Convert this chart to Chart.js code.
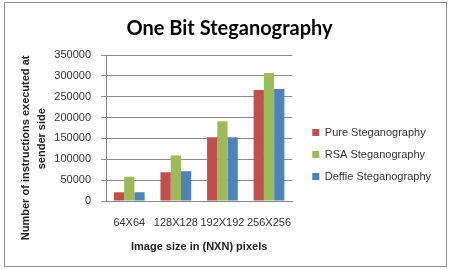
<!DOCTYPE html>
<html>
<head>
<meta charset="utf-8">
<script src="https://cdn.jsdelivr.net/npm/chart.js@4.4.0/dist/chart.umd.min.js"></script>
<style>
html,body{margin:0;padding:0;background:#fff;}
#wrap{position:absolute;left:0;top:0;width:449px;height:269px;}
#frame{position:absolute;left:4px;top:2px;width:441px;height:263px;border:1px solid #8c8c8c;pointer-events:none;}
canvas{position:absolute;left:0;top:0;}
</style>
</head>
<body>
<div id="wrap"><canvas id="c" width="449" height="269"></canvas></div>
<div id="frame"></div>
<script>
const categories = ["64X64", "128X128", "192X192", "256X256"];
const pureValues = [21000, 69000, 153000, 266000];
const rsaValues = [58000, 109000, 191000, 307000];
const deffieValues = [21000, 71500, 153000, 268500];
const seriesNames = ["Pure Steganography", "RSA Steganography", "Deffie Steganography"];
const yTicks = [0, 50000, 100000, 150000, 200000, 250000, 300000, 350000];
const yTitleLines = ["Number of instructions executed at", "sender side"];
const xTitle = "Image size in (NXN) pixels";
const chartTitle = "One Bit Steganography";

const FONT = "'Liberation Sans', Arial, sans-serif";
Chart.defaults.font.family = FONT;
Chart.defaults.color = "#333";

// trailing spaces nudge the rotated (centred) title lines toward the bottom, as in the reference
const yTitleText = [yTitleLines[0] + " ".repeat(13), yTitleLines[1] + " ".repeat(7)];

new Chart(document.getElementById('c'), {
  type: 'bar',
  data: {
    labels: categories,
    datasets: [
      {label: seriesNames[0], data: pureValues, backgroundColor: '#C0504D'},
      {label: seriesNames[1], data: rsaValues, backgroundColor: '#9BBB59'},
      {label: seriesNames[2], data: deffieValues, backgroundColor: '#4F81BD'}
    ]
  },
  options: {
    responsive: false,
    animation: false,
    devicePixelRatio: 1,
    datasets: {bar: {categoryPercentage: 0.66, barPercentage: 1.0}},
    layout: {padding: {left: 18, right: 8, top: 8, bottom: 17}},
    plugins: {
      title: {
        display: true,
        text: chartTitle,
        color: '#000',
        font: {family: "Lato, 'Open Sans', sans-serif", size: 20, weight: 'bold'},
        padding: {top: 9, bottom: 14}
      },
      legend: {
        position: 'right',
        align: 'center',
        maxWidth: 150,
        title: {display: true, text: '', font: {size: 10, lineHeight: 1.2}, padding: {top: 0, bottom: 37}},
        labels: {
          boxWidth: 7, boxHeight: 7, padding: 11,
          color: '#333',
          font: {size: 11}
        }
      },
      tooltip: {enabled: false}
    },
    scales: {
      x: {
        grid: {display: false, drawTicks: false},
        border: {display: true, color: '#868686'},
        ticks: {padding: 16, color: '#333', font: {size: 11, lineHeight: 1.0}, maxRotation: 0, autoSkip: false},
        title: {display: true, text: xTitle, color: '#222', font: {size: 11, weight: 'bold', lineHeight: 1.0}, padding: {top: -3, bottom: 0}}
      },
      y: {
        min: 0, max: 350000,
        afterBuildTicks: (axis) => { axis.ticks = yTicks.map(v => ({value: v})); },
        afterFit: (s) => { s.width = 88; },
        grid: {color: '#8a8a8a', tickLength: 5, drawTicks: true},
        border: {display: true, color: '#868686'},
        ticks: {padding: 10, color: '#333', font: {size: 11}, callback: (v) => String(v)},
        title: {display: true, text: yTitleText, color: '#222', font: {size: 11, weight: 'bold', lineHeight: 1.45}, padding: {top: 0, bottom: 5}}
      },
      gap: {
        position: 'right',
        display: true,
        grid: {display: false, drawTicks: false},
        border: {display: false},
        ticks: {display: false},
        afterFit: (s) => { s.width = 9; }
      }
    }
  }
});
</script>
</body>
</html>
